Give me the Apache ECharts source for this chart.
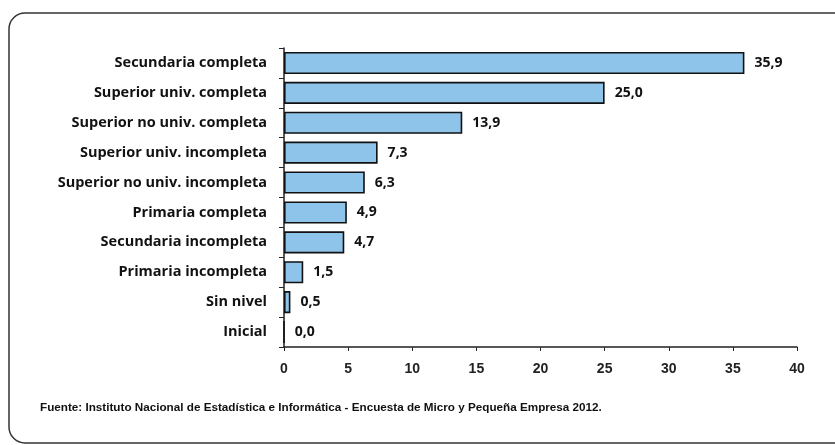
<!DOCTYPE html>
<html><head><meta charset="utf-8">
<script src="https://cdn.jsdelivr.net/npm/echarts@6/dist/echarts.min.js"></script>
<style>html,body{margin:0;padding:0;background:#fff}#c{width:835px;height:445px}</style>
</head><body><div id="c"></div>
<script>
const categories = ["Secundaria completa","Superior univ. completa","Superior no univ. completa","Superior univ. incompleta","Superior no univ. incompleta","Primaria completa","Secundaria incompleta","Primaria incompleta","Sin nivel","Inicial"];
const values = [35.9,25.0,13.9,7.3,6.3,4.9,4.7,1.5,0.5,0.0];
const xTicks = [0,5,10,15,20,25,30,35,40];
const source = "Fuente: Instituto Nacional de Estadística e Informática - Encuesta de Micro y Pequeña Empresa 2012.";

const chart = echarts.init(document.getElementById('c'), null, {renderer:'canvas'});
chart.setOption({
  animation:false,
  backgroundColor:'#fff',
  graphic:[
    {type:'rect', shape:{x:9,y:13,width:840,height:430,r:16}, style:{fill:'none',stroke:'#333',lineWidth:1.5}, z:-1},
    {type:'text', left:40, top:402, style:{text:source, font:'bold 11.7px "Liberation Sans Narrow", "Liberation Sans", sans-serif', fill:'#111'}}
  ],
  grid:{left:284, right:38, top:48, bottom:98},
  xAxis:{type:'value', min:0, max:40, interval:5,
    axisLine:{show:true,lineStyle:{color:'#222',width:1.5}},
    axisTick:{show:true,length:4,lineStyle:{color:'#222'}},
    splitLine:{show:false},
    axisLabel:{margin:15, color:'#222', fontFamily:'"Liberation Sans", Arial, sans-serif', fontWeight:'bold', fontSize:14,
      formatter:v=>xTicks.includes(v)?String(v):''}
  },
  yAxis:{type:'category', inverse:true, data:categories,
    axisLine:{show:true,lineStyle:{color:'#222',width:1.5}},
    axisTick:{show:true,length:5,lineStyle:{color:'#222'}},
    axisLabel:{margin:17, color:'#111', fontFamily:'"Open Sans", Lato, sans-serif', fontWeight:'bold', fontSize:14.5}
  },
  series:[{type:'bar', data:values, barCategoryGap:'26%',
    itemStyle:{color:'#8ec3ea', borderColor:'#111', borderWidth:1.6},
    label:{show:true, position:'right', distance:10, color:'#111', fontFamily:'"Open Sans", Lato, sans-serif', fontWeight:'bold', fontSize:14,
      formatter:p=>p.value.toFixed(1).replace('.',',')}
  }]
});
</script></body></html>
